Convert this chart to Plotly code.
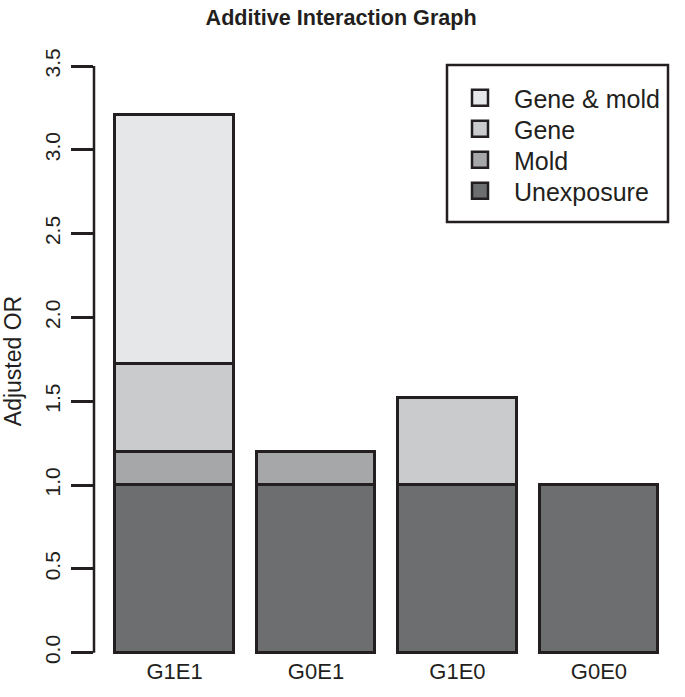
import plotly.graph_objects as go

categories = ["G1E1", "G0E1", "G1E0", "G0E0"]
unexposure = [1.0, 1.0, 1.0, 1.0]
mold = [0.2, 0.2, 0.0, 0.0]
gene = [0.52, 0.0, 0.52, 0.0]
gene_mold = [1.49, 0.0, 0.0, 0.0]
y_ticks = [0.0, 0.5, 1.0, 1.5, 2.0, 2.5, 3.0, 3.5]

series = [
    ("Unexposure", unexposure, "#6d6e70"),
    ("Mold", mold, "#a6a7a9"),
    ("Gene", gene, "#cacbcd"),
    ("Gene & mold", gene_mold, "#e6e7e8"),
]

INK = "#231f20"
FONT = "Liberation Sans, Arial, sans-serif"
W, H = 685, 697
L, R, T, B = 94, 4, 66, 41
PW, PH = W - L - R, H - T - B

def px_x(p):
    return (p - L) / PW

def px_y(p):
    return 1 - (p - T) / PH

fig = go.Figure()
for name, vals, col in series:
    fig.add_trace(go.Bar(
        x=categories, y=vals, name=name, width=0.84,
        marker=dict(color=col, line=dict(color=INK, width=3)),
        showlegend=False,
    ))

# legend entries: one legend per row, top row = Gene & mold
row_centers = [191, 160, 129, 98]  # Unexposure, Mold, Gene, Gene & mold
legend_layout = {}
for i, ((name, vals, col), yc) in enumerate(zip(series, row_centers)):
    lname = "legend" if i == 0 else f"legend{i + 1}"
    fig.add_trace(go.Scatter(
        x=[None], y=[None], mode="markers", name=name, legend=lname,
        marker=dict(symbol="square", size=16, color=col, line=dict(color=INK, width=2.5)),
        showlegend=True,
    ))
    legend_layout[lname] = dict(
        x=px_x(446), xanchor="left", y=px_y(yc), yanchor="middle",
        borderwidth=0, bgcolor="rgba(0,0,0,0)", font=dict(size=25),
        itemsizing="trace", itemwidth=58,
    )

fig.update_layout(
    width=W, height=H,
    barmode="stack",
    bargap=0,
    plot_bgcolor="white", paper_bgcolor="white",
    margin=dict(l=L, r=R, t=T, b=B),
    font=dict(family=FONT, color=INK, size=22),
    title=dict(text="<b>Additive Interaction Graph</b>", x=0.498, xanchor="center",
               y=1 - 17 / H, yanchor="middle", font=dict(size=21.6, color=INK)),
    xaxis=dict(range=[-0.569, 3.58], showline=False, showgrid=False, zeroline=False,
               ticks="", tickfont=dict(size=22), ticklabelstandoff=0, automargin=False),
    yaxis=dict(range=[-0.02, 3.5], tickvals=y_ticks, ticktext=[f"{v:.1f}" for v in y_ticks],
               tickangle=-90, ticks="outside", ticklen=22, tickwidth=2.5, tickcolor=INK,
               showline=False, showgrid=False, zeroline=False, automargin=False,
               tickfont=dict(size=21), ticklabelstandoff=3,
               title=dict(text="Adjusted OR", font=dict(size=23), standoff=14)),
    shapes=[
        dict(type="line", xref="paper", yref="y", x0=0, x1=0, y0=0, y1=3.5,
             line=dict(color=INK, width=2.5)),
        dict(type="rect", xref="paper", yref="paper",
             x0=px_x(447), x1=px_x(668), y0=px_y(222), y1=px_y(65),
             line=dict(color=INK, width=2.5), fillcolor="rgba(0,0,0,0)"),
    ],
    **legend_layout,
)

fig.write_html("out.html", config={"displayModeBar": False},
               post_script="document.body.style.margin='0px';")
